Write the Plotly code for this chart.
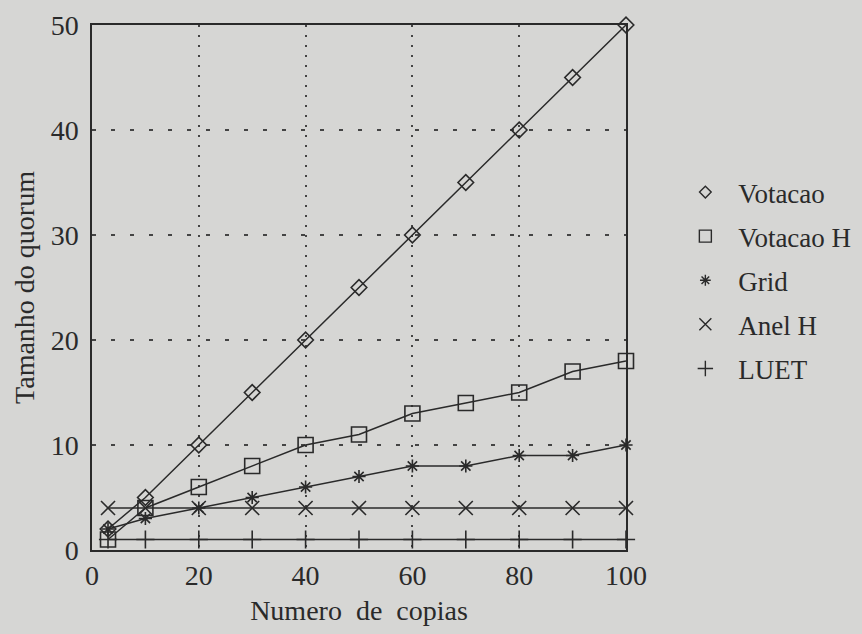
import plotly.graph_objects as go

copias = [3, 10, 20, 30, 40, 50, 60, 70, 80, 90, 100]
votacao = [2, 5, 10, 15, 20, 25, 30, 35, 40, 45, 50]
votacao_h = [1, 4, 6, 8, 10, 11, 13, 14, 15, 17, 18]
grid = [2, 3, 4, 5, 6, 7, 8, 8, 9, 9, 10]
anel_h = [4, 4, 4, 4, 4, 4, 4, 4, 4, 4, 4]
luet = [1, 1, 1, 1, 1, 1, 1, 1, 1, 1, 1]

series_names = ["Votacao", "Votacao H", "Grid", "Anel H", "LUET"]
series_values = [votacao, votacao_h, grid, anel_h, luet]
symbols = ["diamond-open", "square-open", "asterisk-open", "x-thin-open", "cross-thin-open"]
sizes = [12, 15, 11, 14, 13]
legend_sizes = [9, 12, 9, 12, 11]

ink = "#2a2a2a"
bg = "#d6d6d4"
font_family = "Liberation Serif, Times New Roman, serif"

fig = go.Figure()
for name, vals, sym, sz in zip(series_names, series_values, symbols, sizes):
    fig.add_trace(go.Scatter(
        x=copias, y=vals, mode="lines+markers", name=name, showlegend=False,
        line=dict(color=ink, width=1.5),
        marker=dict(symbol=sym, size=sz, color=ink, line=dict(color=ink, width=1.6)),
        cliponaxis=False,
    ))
for i, (name, sym, sz) in enumerate(zip(series_names, symbols, legend_sizes)):
    fig.add_trace(go.Scatter(
        x=[None], y=[None], mode="markers", name=name, legendgroup=f"g{i}",
        marker=dict(symbol=sym, size=sz, color=ink, line=dict(color=ink, width=1.4)),
    ))

fig.update_layout(
    width=862, height=634,
    paper_bgcolor=bg, plot_bgcolor=bg,
    margin=dict(l=92, r=236, t=25, b=84, autoexpand=False),
    font=dict(family=font_family, size=28, color=ink),
    legend=dict(
        x=0.780, xanchor="left", xref="container", y=0.735, yanchor="top", yref="container",
        bgcolor="rgba(0,0,0,0)", font=dict(size=27, color=ink),
        tracegroupgap=6, traceorder="grouped", itemwidth=56,
    ),
    xaxis=dict(
        range=[0, 100], tickvals=[0, 20, 40, 60, 80, 100],
        showline=True, linecolor=ink, linewidth=1.5, mirror=True,
        showgrid=True, gridcolor="#444444", gridwidth=1.5, griddash="2px,8px",
        zeroline=False, ticks="", ticklen=0, automargin=False,
        title=dict(text="Numero  de  copias", font=dict(size=28), standoff=10),
        tickfont=dict(size=28),
    ),
    yaxis=dict(
        range=[0, 50], tickvals=[0, 10, 20, 30, 40, 50],
        showline=True, linecolor=ink, linewidth=1.5, mirror=True,
        showgrid=True, gridcolor="#444444", gridwidth=1.5, griddash="4px,15px",
        zeroline=False, ticks="", ticklen=0, automargin=False,
        ticklabelstandoff=6,
        title=dict(text="Tamanho do quorum", font=dict(size=28), standoff=8),
        tickfont=dict(size=28),
    ),
)

fig.write_html(
    "out.html",
    config={"displayModeBar": False},
    post_script="document.body.style.margin='0';document.body.style.background='#d6d6d4';",
)
